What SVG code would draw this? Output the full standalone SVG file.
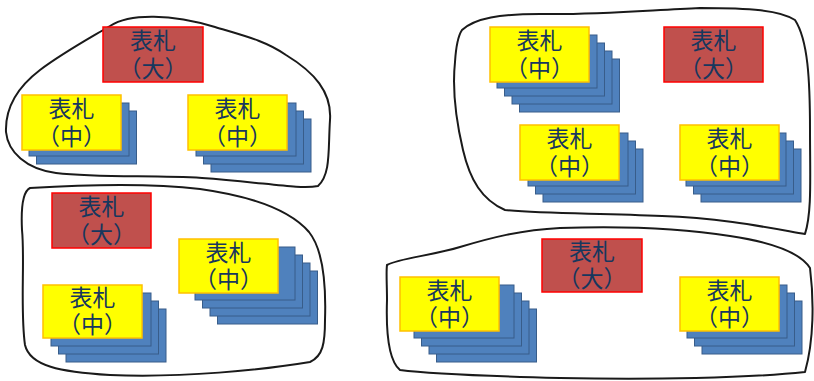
<svg xmlns="http://www.w3.org/2000/svg" xmlns:xlink="http://www.w3.org/1999/xlink" width="814" height="381" viewBox="0 0 814 381">
<style>
.blob{fill:none;stroke:#1a1a1a;stroke-width:2;stroke-linejoin:round}
.sheet{fill:#4F81BD;stroke:#385D8A;stroke-width:1}
.mid{fill:#FFFF00;stroke:#FFC000;stroke-width:1.5}
.big{fill:#C0504D;stroke:#FF0000;stroke-width:1.5}
.t{font-family:"Noto Sans CJK JP","Noto Sans CJK SC",sans-serif;font-size:23px;fill:#17375E;text-anchor:middle}
</style>
<defs>
<rect id="sheet" class="sheet" width="100" height="53"/>
</defs>
<rect width="814" height="381" fill="#ffffff"/>
<g id="groups">
<path id="group-tl" class="blob" d="M 110,26 C 130,13 172,14 215,27 C 245,36 266,41 286,55 C 314,72 332,92 330,120 C 328,150 331,174 318,186 C 300,190 262,182 202,178 C 152,175 100,178 56,173 C 26,169 8,152 6,132 C 5,106 19,86 40,70 C 64,52 90,38 110,26 Z"/>
<path id="group-bl" class="blob" d="M 30,188 C 80,185 150,183 200,189 C 250,196 290,210 309,232 C 325,252 326,290 325,320 C 325,343 323,356 310,362 C 262,370 182,378 110,375 C 60,372 30,366 25,345 C 20,310 25,260 22,230 C 21,210 22,192 30,188 Z"/>
<path id="group-tr" class="blob" d="M 462,30 C 475,18 500,14 540,14 C 600,15 650,10 700,8 C 750,8 780,10 795,20 C 808,40 810,80 810,130 C 810,178 812,212 805,234 C 770,228 722,218 662,216 C 600,213 545,214 505,210 C 482,200 470,180 463,150 C 456,120 452,90 455,62 C 456,46 458,36 462,30 Z"/>
<path id="group-br" class="blob" d="M 387,265 C 400,258 430,256 460,247 C 490,238 520,230 560,228 C 620,226 680,228 730,236 C 770,242 800,252 810,268 C 814,300 814,340 805,372 C 750,378 650,380 560,378 C 480,376 430,374 400,370 C 388,360 386,330 387,300 C 387,285 386,272 387,265 Z"/>
</g>
<g id="connectors"></g>

<g id="big-1">
<rect class="big" x="103" y="27" width="100" height="55"/>
<text class="t" x="153" y="48.5">表札</text>
<text class="t" x="153" y="76.5">（大）</text>
</g>
<g id="mid-1">
<use xlink:href="#sheet" x="36.5" y="111"/>
<use xlink:href="#sheet" x="29" y="103"/>
<rect class="mid" x="22" y="95" width="99" height="55"/>
<text class="t" x="71.5" y="116.5">表札</text>
<text class="t" x="71.5" y="144.5">（中）</text>
</g>
<g id="mid-2">
<use xlink:href="#sheet" x="211" y="119"/>
<use xlink:href="#sheet" x="203.5" y="111"/>
<use xlink:href="#sheet" x="196" y="103"/>
<rect class="mid" x="188" y="95" width="99" height="55"/>
<text class="t" x="237.5" y="116.5">表札</text>
<text class="t" x="237.5" y="144.5">（中）</text>
</g>

<g id="big-2">
<rect class="big" x="52" y="193" width="99" height="55"/>
<text class="t" x="101.5" y="214.5">表札</text>
<text class="t" x="101.5" y="242.5">（大）</text>
</g>
<g id="mid-3">
<use xlink:href="#sheet" x="217.5" y="271"/>
<use xlink:href="#sheet" x="210" y="263"/>
<use xlink:href="#sheet" x="202.5" y="255"/>
<use xlink:href="#sheet" x="195" y="247"/>
<rect class="mid" x="179" y="239" width="99" height="54"/>
<text class="t" x="228.5" y="260.5">表札</text>
<text class="t" x="228.5" y="288">（中）</text>
</g>
<g id="mid-4">
<use xlink:href="#sheet" x="66" y="309"/>
<use xlink:href="#sheet" x="58.5" y="301"/>
<use xlink:href="#sheet" x="51" y="293"/>
<rect class="mid" x="43" y="285" width="99" height="53"/>
<text class="t" x="92.5" y="306">表札</text>
<text class="t" x="92.5" y="333">（中）</text>
</g>

<g id="mid-5">
<use xlink:href="#sheet" x="519.5" y="59"/>
<use xlink:href="#sheet" x="512" y="51"/>
<use xlink:href="#sheet" x="504.5" y="43"/>
<use xlink:href="#sheet" x="497" y="35"/>
<rect class="mid" x="490" y="27" width="99" height="55"/>
<text class="t" x="539.5" y="48.5">表札</text>
<text class="t" x="539.5" y="76.5">（中）</text>
</g>
<g id="big-3">
<rect class="big" x="664" y="27" width="99" height="55"/>
<text class="t" x="713.5" y="48.5">表札</text>
<text class="t" x="713.5" y="76.5">（大）</text>
</g>
<g id="mid-6">
<use xlink:href="#sheet" x="543" y="149"/>
<use xlink:href="#sheet" x="535.5" y="141"/>
<use xlink:href="#sheet" x="528" y="133"/>
<rect class="mid" x="520" y="125" width="99" height="55"/>
<text class="t" x="569.5" y="146.5">表札</text>
<text class="t" x="569.5" y="174.5">（中）</text>
</g>
<g id="mid-7">
<use xlink:href="#sheet" x="701" y="149"/>
<use xlink:href="#sheet" x="693.5" y="141"/>
<use xlink:href="#sheet" x="686" y="133"/>
<rect class="mid" x="680" y="125" width="99" height="55"/>
<text class="t" x="729.5" y="146.5">表札</text>
<text class="t" x="729.5" y="174.5">（中）</text>
</g>

<g id="big-4">
<rect class="big" x="542" y="239" width="100" height="53"/>
<text class="t" x="592" y="260">表札</text>
<text class="t" x="592" y="287">（大）</text>
</g>
<g id="mid-8">
<use xlink:href="#sheet" x="436.5" y="309"/>
<use xlink:href="#sheet" x="429" y="301"/>
<use xlink:href="#sheet" x="421.5" y="293"/>
<use xlink:href="#sheet" x="414" y="285"/>
<rect class="mid" x="400" y="277" width="99" height="54"/>
<text class="t" x="449.5" y="298.5">表札</text>
<text class="t" x="449.5" y="326">（中）</text>
</g>
<g id="mid-9">
<use xlink:href="#sheet" x="702" y="301"/>
<use xlink:href="#sheet" x="694.5" y="293"/>
<use xlink:href="#sheet" x="687" y="285"/>
<rect class="mid" x="680" y="277" width="99" height="54"/>
<text class="t" x="729.5" y="298.5">表札</text>
<text class="t" x="729.5" y="326">（中）</text>
</g>
</svg>
